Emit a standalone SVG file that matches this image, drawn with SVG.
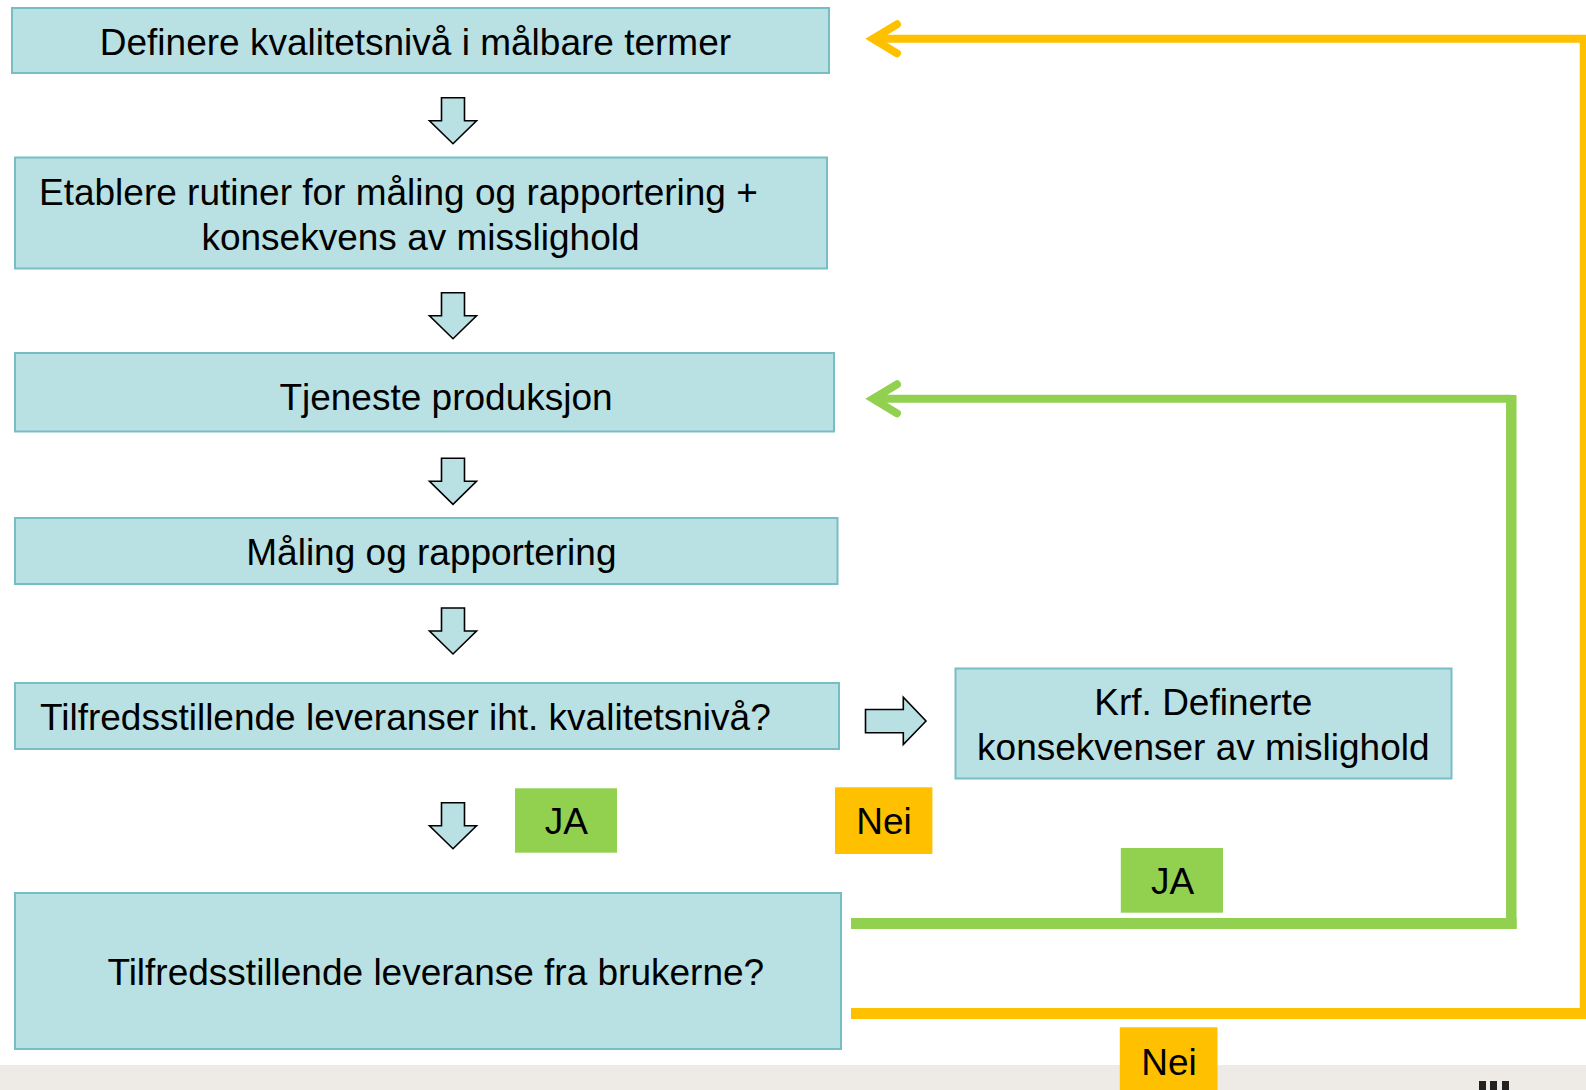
<svg xmlns="http://www.w3.org/2000/svg" xmlns:xlink="http://www.w3.org/1999/xlink" width="1586" height="1090" viewBox="0 0 1586 1090">
<style>
.box{fill:#b9e0e3;stroke:#76bec4;stroke-width:2}
.t{font-family:"Liberation Sans",Arial,sans-serif;font-size:37px;fill:#000}
.m{text-anchor:middle}
.blk{fill:#b9e0e3;stroke:#000;stroke-width:1.6;stroke-linejoin:miter}
.y{fill:none;stroke:#ffc000}
.g{fill:none;stroke:#92d050}
.ja{fill:#92d050}
.nei{fill:#ffc000}
</style>
<defs>
<path id="down" d="M -11.5 0 H 11.5 V 23 H 23.5 L 0 46 L -23.5 23 H -11.5 Z"/>
<marker id="hy" markerUnits="userSpaceOnUse" markerWidth="40" markerHeight="40" refX="0" refY="0" orient="auto" overflow="visible">
<path d="M -24 -14.5 L 0 0 L -24 14.5" fill="none" stroke="#ffc000" stroke-width="8" stroke-linecap="round" stroke-linejoin="miter"/>
</marker>
<marker id="hg" markerUnits="userSpaceOnUse" markerWidth="40" markerHeight="40" refX="0" refY="0" orient="auto" overflow="visible">
<path d="M -24 -14.5 L 0 0 L -24 14.5" fill="none" stroke="#92d050" stroke-width="8" stroke-linecap="round" stroke-linejoin="miter"/>
</marker>
</defs>
<rect width="1586" height="1090" fill="#fff"/>
<rect x="0" y="1065" width="1586" height="25" fill="#eeebe7"/>
<g fill="#222">
<rect x="1479" y="1081" width="7" height="9"/>
<rect x="1490" y="1081" width="7" height="9"/>
<rect x="1502" y="1081" width="7" height="9"/>
</g>

<g id="connectors">
<use href="#down" class="blk" x="453" y="97.7"/>
<use href="#down" class="blk" x="453" y="292.7"/>
<use href="#down" class="blk" x="453" y="458.3"/>
<use href="#down" class="blk" x="453" y="608"/>
<use href="#down" class="blk" x="453" y="802.7"/>
<path class="blk" d="M 865.5 709.5 H 903.3 V 697.3 L 926 721 L 903.3 744.5 V 732.7 H 865.5 Z"/>
<path class="y" stroke-width="11" d="M 851 1013.5 H 1586"/>
<path class="y" stroke-width="6.5" d="M 1583 1019 V 35"/>
<path class="y" stroke-width="8" d="M 1586 38.8 H 873" marker-end="url(#hy)"/>
<path class="g" stroke-width="11" d="M 851 923.5 H 1516.5"/>
<path class="g" stroke-width="10.5" d="M 1511.3 929 V 395"/>
<path class="g" stroke-width="8" d="M 1511 398.8 H 873" marker-end="url(#hg)"/>
</g>

<g id="n1">
<rect class="box" x="12" y="8" width="817" height="65"/>
<text class="t m" x="415.4" y="54.5">Definere kvalitetsnivå i målbare termer</text>
</g>
<g id="n2">
<rect class="box" x="15" y="157.5" width="812" height="111"/>
<text class="t" x="39" y="204.5">Etablere rutiner for måling og rapportering +</text>
<text class="t m" x="420.5" y="249.5">konsekvens av misslighold</text>
</g>
<g id="n3">
<rect class="box" x="15" y="353" width="819" height="78.5"/>
<text class="t m" x="446" y="409.5">Tjeneste produksjon</text>
</g>
<g id="n4">
<rect class="box" x="15" y="518" width="822.5" height="66"/>
<text class="t m" x="431.4" y="564.8">Måling og rapportering</text>
</g>
<g id="n5">
<rect class="box" x="15" y="683" width="824" height="66"/>
<text class="t" x="40" y="730">Tilfredsstillende leveranser iht. kvalitetsnivå?</text>
</g>
<g id="n6">
<rect class="box" x="955.5" y="668.5" width="496" height="110"/>
<text class="t m" x="1203.3" y="715">Krf. Definerte</text>
<text class="t m" x="1203.3" y="759.5">konsekvenser av mislighold</text>
</g>
<g id="n7">
<rect class="box" x="15" y="893" width="826" height="156"/>
<text class="t m" x="435.8" y="984.5">Tilfredsstillende leveranse fra brukerne?</text>
</g>
<g id="ja1">
<rect class="ja" x="515" y="788.3" width="102" height="64.4"/>
<text class="t m" x="566.3" y="834">JA</text>
</g>
<g id="nei1">
<rect class="nei" x="835" y="787.3" width="97.4" height="66.7"/>
<text class="t m" x="884" y="834">Nei</text>
</g>
<g id="ja2">
<rect class="ja" x="1120.8" y="848" width="102.2" height="64.7"/>
<text class="t m" x="1172.7" y="894">JA</text>
</g>
<g id="nei2">
<rect class="nei" x="1119.8" y="1027.3" width="97.7" height="62.7"/>
<text class="t m" x="1169" y="1075">Nei</text>
</g>
</svg>
